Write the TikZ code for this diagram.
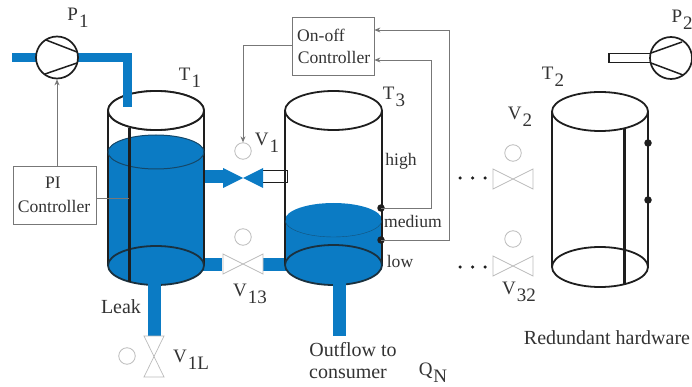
\documentclass[tikz,border=0pt]{standalone}
\usepackage{fontspec}
\setmainfont{Liberation Serif}
\usetikzlibrary{arrows.meta}
\definecolor{water}{HTML}{0B7BC4}
\definecolor{ink}{HTML}{1E1E1E}
\definecolor{wire}{HTML}{777777}
\definecolor{vgray}{HTML}{BBBBBB}
\definecolor{txt}{HTML}{333333}
\newcommand{\sublab}[2]{#1\raisebox{-0.38em}{\kern0.05em #2}}
\newcommand{\tankbody}[4]{%
  \draw[tankline] (#1-#2,#3) -- (#1-#2,#4) (#1+#2,#3) -- (#1+#2,#4);
  \draw[tankline,fill=white] (#1,#3) ellipse [x radius=#2,y radius=19.5];
}
\newcommand{\valveH}[3][vgray]{%
  \draw[valveline,draw=#1,fill=white] (#2-20,#3-10) -- (#2+20,#3+10) -- (#2+20,#3-10) -- (#2-20,#3+10) -- cycle;
}
\tikzset{
  tankline/.style={draw=ink,line width=1.8pt},
  wireline/.style={draw=wire,line width=0.8pt},
  sig/.style={wireline,-{Stealth[length=6pt,width=5pt]}},
  valveline/.style={line width=0.7pt},
  pipe/.style={draw=water,line width=9pt},
  pipewide/.style={draw=water,line width=13pt},
  lampc/.style={circle,draw=vgray,fill=white,line width=0.8pt,minimum size=16.5pt,inner sep=0pt},
  dotc/.style={circle,fill=ink,minimum size=7.5pt,inner sep=0pt},
  smalld/.style={circle,fill=ink,minimum size=3.5pt,inner sep=0pt},
  pumpc/.style={circle,draw=ink,fill=white,line width=1.7pt,minimum size=42pt,inner sep=0pt},
  boxn/.style={draw=wire,fill=white,line width=0.8pt,inner sep=0pt},
  lab/.style={text=txt,inner sep=0pt,font=\fontsize{17.6}{19}\selectfont},
  lablarge/.style={text=txt,inner sep=0pt,font=\fontsize{20}{22}\selectfont},
  biglab/.style={text=txt,inner sep=0pt,font=\fontsize{19}{21}\selectfont},
}
\begin{document}
\begin{tikzpicture}[x=1pt,y=-1pt]
\useasboundingbox (0,0) rectangle (692,387);
\clip (0,0) rectangle (692,387);
\fill[white] (0,0) rectangle (692,387);

% coordinates
\coordinate (pipeA) at (12,57.5);
\coordinate (pipeB) at (127,57.5);
\coordinate (pipeC) at (127,107);
\coordinate (leakA) at (154.5,280);
\coordinate (leakB) at (154.5,336);
\coordinate (outA) at (339.5,280);
\coordinate (outB) at (339.5,336);
\coordinate (sensTop) at (624,128);
\coordinate (sensBot) at (624,284);
\coordinate (leveltop) at (129,128);
\coordinate (levelbot) at (129,282);

% pipes between tanks
\draw[pipewide] (200,177) -- (226,177);
\draw[pipewide] (200,264) -- (222,264);
\draw[pipewide] (263,264) -- (290,264);
\draw[draw=ink,line width=1pt,fill=white] (262,171) rectangle (287,183);

% T1
\tankbody{156}{48}{110.5}{265.5}
\fill[water] (108,152) -- (108,265.5) arc[start angle=180,end angle=0,x radius=48,y radius=19.5] -- (204,152) arc[start angle=0,end angle=-180,x radius=48,y radius=17] -- cycle;
\draw[tankline] (108,110.5) -- (108,265.5) (204,110.5) -- (204,265.5);
\draw[ink!55!water,line width=1pt] (156,152) ellipse [x radius=48,y radius=17];
\draw[tankline,draw=ink!80!water] (156,265.5) ellipse [x radius=48,y radius=19.5];
\draw[tankline,fill=white] (156,110.5) ellipse [x radius=48,y radius=19.5];
\draw[draw=ink,line width=3pt] (leveltop) -- (levelbot);

% T3
\tankbody{333.5}{48.5}{110.5}{265}
\fill[water] (285,220) -- (285,265) arc[start angle=180,end angle=0,x radius=48.5,y radius=20] -- (382,220) arc[start angle=0,end angle=-180,x radius=48.5,y radius=17] -- cycle;
\draw[tankline] (285,110.5) -- (285,265) (382,110.5) -- (382,265);
\draw[ink!45!water,line width=0.4pt] (285,220) arc[start angle=180,end angle=0,x radius=48.5,y radius=17];
\draw[tankline,draw=ink!80!water] (333.5,265) ellipse [x radius=48.5,y radius=20];

% T2
\tankbody{600}{48}{111.5}{267}
\draw[tankline] (600,267) ellipse [x radius=48,y radius=20];
\draw[draw=ink,line width=3pt] (sensTop) -- (sensBot);

% inlet and outlet pipes
\draw[pipe] (pipeA) -- (pipeB) -- (pipeC);
\draw[pipewide] (leakA) -- (leakB);
\draw[pipewide] (outA) -- (outB);

% P2 white pipe
\draw[draw=ink,line width=1.2pt,fill=white] (609,53.5) rectangle (652,62.5);

% pumps
\node[pumpc] (p1) at (57,57.5) {};
\draw[ink,line width=1.5pt] (46,40) -- (77,52) (45,74) -- (77,63);
\node[pumpc] (p2) at (671,58) {};
\draw[ink,line width=1.5pt] (651,53) -- (682,42) (651,63) -- (683,75);

% controllers
\node[boxn,minimum width=83pt,minimum height=58pt] (pi) at (54.5,195) {};
\node[boxn,minimum width=82pt,minimum height=58pt] (onoff) at (333,46) {};
\node[lab] (pitxt) at (53,183) {PI};
\node[lab] (pitxt2) at (54,206) {Controller};
\node[lab] (ontxt) at (321,35) {On-off};
\node[lab] (ontxt2) at (334,57) {Controller};

% valves
\fill[water] (223,168) -- (243,178) -- (223,188) -- cycle;
\fill[water] (263,168) -- (243,178) -- (263,188) -- cycle;
\valveH{243}{264}
\valveH{513}{179}
\valveH{513}{266}
\draw[valveline,draw=vgray,fill=white] (144,336) -- (164,377) -- (144,377) -- (164,336) -- cycle;

\node[lampc] (v1c) at (243,151) {};
\node[lampc] (v13c) at (243,237) {};
\node[lampc] (v1lc) at (127,356) {};
\node[lampc] (v2c) at (513,153) {};
\node[lampc] (v32c) at (513,239) {};

% sensors
\node[dotc] (s1) at (381,208) {};
\node[dotc] (s2) at (381,240) {};
\node[dotc] (s3) at (648,143) {};
\node[dotc] (s4) at (648,200) {};
\coordinate (t2a) at (648,111);
\coordinate (t2b) at (648,267);
\draw[tankline] (t2a) -- (s3) -- (s4) -- (t2b);

% signals
\draw[sig] (pi.north -| p1.south) -- (p1.south);
\draw[wireline] (pi.east |- 0,198) -- (129,198);
\draw[sig] (onoff.west |- 0,45) -| (v1c.north);
\coordinate (fb1) at (449,30);
\coordinate (fb2) at (431,60);
\draw[sig] (s2.center) -- (449,240) -- (fb1) -- (onoff.east |- fb1);
\draw[sig] (s1.center) -- (431,208) -- (fb2) -- (onoff.east |- fb2);

% dots
\foreach \i/\x/\y in {a/460/178,b/472.5/178,c/485/178,d/460/267,e/472.5/267,f/485/267}
  \node[smalld] (dot\i) at (\x,\y) {};

% labels
\node[biglab] (lp1) at (78,18) {\sublab{P}{1}};
\node[biglab,anchor=west] (lp2) at (671.5,20) {\sublab{P}{2}};
\node[biglab] (lt1) at (190,78) {\sublab{T}{1}};
\node[biglab] (lt3) at (394,97) {\sublab{T}{3}};
\node[biglab] (lt2) at (553,77) {\sublab{T}{2}};
\node[biglab] (lv1) at (267,143) {\sublab{V}{1}};
\node[biglab] (lv13) at (250,294) {\sublab{V}{13}};
\node[biglab] (lv1l) at (191,360) {\sublab{V}{1L}};
\node[biglab] (lv2) at (520,117) {\sublab{V}{2}};
\node[biglab] (lv32) at (519,292) {\sublab{V}{32}};
\node[biglab] (lqn) at (433,373) {\sublab{Q}{N}};
\node[lab] (lhigh) at (401,161) {high};
\node[lab] (lmed) at (413,221) {medium};
\node[lab] (llow) at (400,261) {low};
\node[lablarge] (lleak) at (121,307) {Leak};
\node[lablarge] (lout) at (353,350) {Outflow to};
\node[lablarge] (lcons) at (348,374) {consumer};
\node[lablarge] (lred) at (607,338) {Redundant hardware};
\end{tikzpicture}
\end{document}
